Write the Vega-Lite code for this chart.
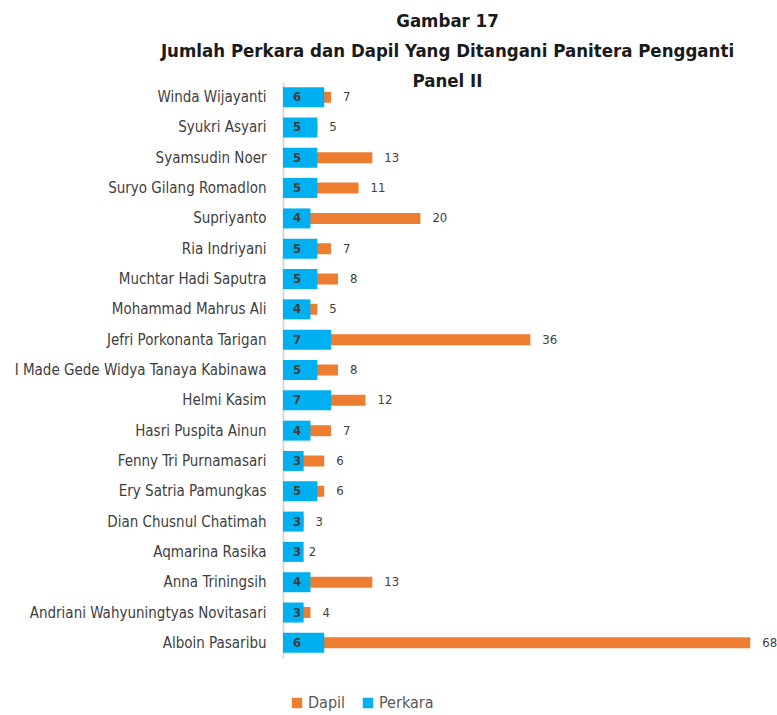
{
  "$schema": "https://vega.github.io/schema/vega-lite/v6.json",
  "autosize": "none",
  "padding": {"left": 283, "top": 82, "right": 13, "bottom": 57},
  "width": 481,
  "height": 576,
  "background": "white",
  "title": {
    "text": ["Gambar 17", "Jumlah Perkara dan Dapil Yang Ditangani Panitera Pengganti", "Panel II"],
    "anchor": "middle",
    "frame": "group",
    "dx": -76,
    "offset": -8,
    "font": "DejaVu Sans Condensed",
    "fontWeight": "bold",
    "fontSize": 18.5,
    "lineHeight": 30,
    "color": "#1a1a1a"
  },
  "data": {
    "values": [
      {"nama": "Winda Wijayanti", "seri": "Perkara", "nilai": 6},
      {"nama": "Winda Wijayanti", "seri": "Dapil", "nilai": 7},
      {"nama": "Syukri Asyari", "seri": "Perkara", "nilai": 5},
      {"nama": "Syukri Asyari", "seri": "Dapil", "nilai": 5},
      {"nama": "Syamsudin Noer", "seri": "Perkara", "nilai": 5},
      {"nama": "Syamsudin Noer", "seri": "Dapil", "nilai": 13},
      {"nama": "Suryo Gilang Romadlon", "seri": "Perkara", "nilai": 5},
      {"nama": "Suryo Gilang Romadlon", "seri": "Dapil", "nilai": 11},
      {"nama": "Supriyanto", "seri": "Perkara", "nilai": 4},
      {"nama": "Supriyanto", "seri": "Dapil", "nilai": 20},
      {"nama": "Ria Indriyani", "seri": "Perkara", "nilai": 5},
      {"nama": "Ria Indriyani", "seri": "Dapil", "nilai": 7},
      {"nama": "Muchtar Hadi Saputra", "seri": "Perkara", "nilai": 5},
      {"nama": "Muchtar Hadi Saputra", "seri": "Dapil", "nilai": 8},
      {"nama": "Mohammad Mahrus Ali", "seri": "Perkara", "nilai": 4},
      {"nama": "Mohammad Mahrus Ali", "seri": "Dapil", "nilai": 5},
      {"nama": "Jefri Porkonanta Tarigan", "seri": "Perkara", "nilai": 7},
      {"nama": "Jefri Porkonanta Tarigan", "seri": "Dapil", "nilai": 36},
      {"nama": "I Made Gede Widya Tanaya Kabinawa", "seri": "Perkara", "nilai": 5},
      {"nama": "I Made Gede Widya Tanaya Kabinawa", "seri": "Dapil", "nilai": 8},
      {"nama": "Helmi Kasim", "seri": "Perkara", "nilai": 7},
      {"nama": "Helmi Kasim", "seri": "Dapil", "nilai": 12},
      {"nama": "Hasri Puspita Ainun", "seri": "Perkara", "nilai": 4},
      {"nama": "Hasri Puspita Ainun", "seri": "Dapil", "nilai": 7},
      {"nama": "Fenny Tri Purnamasari", "seri": "Perkara", "nilai": 3},
      {"nama": "Fenny Tri Purnamasari", "seri": "Dapil", "nilai": 6},
      {"nama": "Ery Satria Pamungkas", "seri": "Perkara", "nilai": 5},
      {"nama": "Ery Satria Pamungkas", "seri": "Dapil", "nilai": 6},
      {"nama": "Dian Chusnul Chatimah", "seri": "Perkara", "nilai": 3},
      {"nama": "Dian Chusnul Chatimah", "seri": "Dapil", "nilai": 3},
      {"nama": "Aqmarina Rasika", "seri": "Perkara", "nilai": 3},
      {"nama": "Aqmarina Rasika", "seri": "Dapil", "nilai": 2},
      {"nama": "Anna Triningsih", "seri": "Perkara", "nilai": 4},
      {"nama": "Anna Triningsih", "seri": "Dapil", "nilai": 13},
      {"nama": "Andriani Wahyuningtyas Novitasari", "seri": "Perkara", "nilai": 3},
      {"nama": "Andriani Wahyuningtyas Novitasari", "seri": "Dapil", "nilai": 4},
      {"nama": "Alboin Pasaribu", "seri": "Perkara", "nilai": 6},
      {"nama": "Alboin Pasaribu", "seri": "Dapil", "nilai": 68}
    ]
  },
  "encoding": {
    "y": {
      "field": "nama",
      "type": "nominal",
      "sort": "descending",
      "title": null,
      "scale": {"paddingInner": 0.34, "paddingOuter": 0.17},
      "axis": {
        "ticks": false,
        "labelPadding": 17,
        "labelFont": "DejaVu Sans Condensed",
        "labelFontSize": 15,
        "labelColor": "#404040",
        "labelLimit": 400,
        "domainColor": "#D9D9D9",
        "domainWidth": 2
      }
    },
    "x": {
      "field": "nilai",
      "type": "quantitative",
      "scale": {"domain": [0, 70], "nice": false},
      "axis": null
    }
  },
  "layer": [
    {
      "transform": [{"filter": "datum.seri === 'Dapil'"}],
      "mark": {"type": "bar", "size": 11},
      "encoding": {
        "color": {
          "field": "seri",
          "type": "nominal",
          "scale": {"domain": ["Dapil", "Perkara"], "range": ["#ED7D31", "#00B0F0"]},
          "legend": {
            "title": null,
            "orient": "none",
            "direction": "horizontal",
            "legendX": 6,
            "legendY": 613,
            "symbolType": "square",
            "symbolSize": 110,
            "symbolStrokeWidth": 0,
            "symbolOpacity": 1,
            "labelFont": "DejaVu Sans Condensed",
            "labelFontSize": 16,
            "labelColor": "#595959",
            "columnPadding": 14,
            "labelOffset": 3
          }
        }
      }
    },
    {
      "transform": [{"filter": "datum.seri === 'Perkara'"}],
      "mark": {"type": "bar", "size": 20},
      "encoding": {
        "color": {"field": "seri", "type": "nominal"}
      }
    },
    {
      "transform": [{"filter": "datum.seri === 'Perkara'"}],
      "mark": {
        "type": "text",
        "align": "left",
        "baseline": "middle",
        "dx": 10,
        "font": "DejaVu Sans Condensed",
        "fontWeight": "bold",
        "fontSize": 13,
        "color": "#404040"
      },
      "encoding": {
        "x": {"datum": 0, "type": "quantitative"},
        "text": {"field": "nilai", "type": "quantitative"}
      }
    },
    {
      "transform": [{"filter": "datum.seri === 'Dapil'"}],
      "mark": {
        "type": "text",
        "align": "left",
        "baseline": "middle",
        "dx": 12,
        "font": "DejaVu Sans Condensed",
        "fontSize": 13,
        "color": "#404040"
      },
      "encoding": {
        "text": {"field": "nilai", "type": "quantitative"}
      }
    }
  ],
  "config": {
    "view": {"stroke": null}
  }
}
